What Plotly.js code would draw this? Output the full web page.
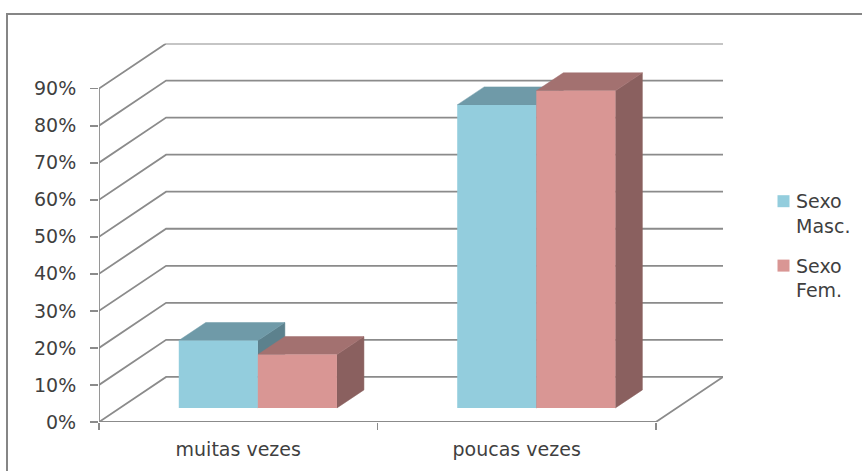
<!DOCTYPE html>
<html><head><meta charset="utf-8">
<script src="https://cdn.plot.ly/plotly-3.0.1.min.js"></script>
<style>html,body{margin:0;padding:0;background:#fff}#c{width:862px;height:471px}
#c .legendsymbols{transform:translate(7.5px,-12px)}</style>
</head><body><div id="c"></div>
<script>
const categories = ['muitas vezes', 'poucas vezes'];
const masc = [18.2, 81.8];
const fem = [14.4, 85.6];
const gridValues = [0,10,20,30,40,50,60,70,80,90];
const GREY = '#8b8b8b', TEXT = '#3f3f3f';
const FONT = 'DejaVu Sans, sans-serif';
const FS = 19;

// 3-D projection constants, in axis units
const WALL_DX = 0.241, WALL_DY = 12.17;   // depth of the chart box
const BAR_DX = 0.097, BAR_DY = 4.87;      // depth of a bar
const OFF_X = 0.0705, OFF_Y = 3.79;       // where the bar's front sits on the floor
const BAR_W = 0.284;
const XMIN = -0.5, XMAX = 1.5;

const traces = [];
function line(xs, ys) {
  traces.push({type:'scatter', mode:'lines', x:xs, y:ys, showlegend:false, hoverinfo:'skip',
    cliponaxis:false, line:{color:GREY, width:1.8}});
}
function poly(xs, ys, color) {
  traces.push({type:'scatter', mode:'lines', x:xs, y:ys, fill:'toself', fillcolor:color,
    showlegend:false, hoverinfo:'skip', cliponaxis:false, line:{color:color, width:0.5}});
}
// walls
gridValues.forEach(v => {
  line([XMIN, XMIN + WALL_DX, XMAX + WALL_DX], [v, v + WALL_DY, v + WALL_DY]);
});
line([XMIN, XMIN], [0, 90]);
line([XMIN, XMAX, XMAX + WALL_DX], [0, 0, WALL_DY]);

// depth faces of one bar
function faces(cx, v, topC, sideC) {
  const l = cx - BAR_W/2, r = cx + BAR_W/2, t = v + OFF_Y, b = OFF_Y;
  poly([r, r + BAR_DX, r + BAR_DX, r, r], [b, b + BAR_DY, t + BAR_DY, t, b], sideC);
  poly([l, l + BAR_DX, r + BAR_DX, r, l], [t, t + BAR_DY, t + BAR_DY, t, t], topC);
}
categories.forEach((c, i) => {
  const mx = i + OFF_X - BAR_W/2, fx = i + OFF_X + BAR_W/2;
  faces(mx, masc[i], '#6f9aa8', '#5c818d');
  faces(fx, fem[i], '#a37170', '#8a605f');
});
// front faces, on an overlaid subplot so they cover the depth faces
const barX = s => categories.map((c, i) => i + OFF_X + s * BAR_W/2);
const bars = (name, y, s, color, g) => ({type:'bar', name, legendgroup:g, x:barX(s), y, base:[OFF_Y, OFF_Y], width:BAR_W,
  marker:{color, line:{width:0}}, xaxis:'x2', yaxis:'y2', hoverinfo:'skip'});
traces.push(bars('Sexo<br>Masc.', masc, -1, '#93cddd', 'm'));
traces.push(bars('Sexo<br>Fem.', fem, 1, '#d99694', 'f'));

const W = 862, H = 471, L = 99, R = 723, T = 43.5, B = 422;
const xr = [XMIN, XMAX + WALL_DX], yr = [0, 90 + WALL_DY];
const xd = [L/W, R/W], yd = [1 - B/H, 1 - T/H];
const layout = {
  width:W, height:H, autosize:false,
  margin:{l:0, r:0, t:0, b:0, pad:0},
  paper_bgcolor:'#fff', plot_bgcolor:'rgba(0,0,0,0)',
  barmode:'overlay', showlegend:true,
  font:{family:FONT, size:FS, color:TEXT},
  xaxis:{domain:xd, range:xr, tickmode:'array', tickvals:[0,1], ticktext:categories, ticks:'',
    ticklabelstandoff:14, showgrid:false, zeroline:false, showline:false,
    minor:{tickmode:'array', tickvals:[XMIN, 0.5, XMAX], ticks:'outside', ticklen:7, tickcolor:GREY, tickwidth:1.8, showgrid:false},
    tickfont:{family:FONT, size:FS, color:TEXT}},
  yaxis:{domain:yd, range:yr, tickmode:'array', tickvals:gridValues, ticktext:gridValues.map(v => v + '%'),
    ticks:'outside', ticklen:8, tickcolor:GREY, tickwidth:1.8, showgrid:false, zeroline:false, showline:false,
    ticklabelstandoff:10, tickfont:{family:FONT, size:FS, color:TEXT}},
  xaxis2:{domain:xd, range:xr, overlaying:'x', visible:false, anchor:'y2'},
  yaxis2:{domain:yd, range:yr, overlaying:'y', visible:false, anchor:'x2'},
  legend:{x:756/W, xanchor:'left', y:1 - 182/H, yanchor:'top', font:{family:FONT, size:FS, color:TEXT},
    bgcolor:'rgba(0,0,0,0)', tracegroupgap:12, itemwidth:30, entrywidth:52, entrywidthmode:'pixels'},
  shapes:[
    {type:'line', xref:'paper', yref:'paper', x0:7/W, x1:7/W, y0:0, y1:1 - 14/H, line:{color:'#868686', width:2}},
    {type:'line', xref:'paper', yref:'paper', x0:6/W, x1:1, y0:1 - 14/H, y1:1 - 14/H, line:{color:'#868686', width:2}}
  ]
};
Plotly.newPlot('c', traces, layout, {displayModeBar:false, staticPlot:true});
</script></body></html>
